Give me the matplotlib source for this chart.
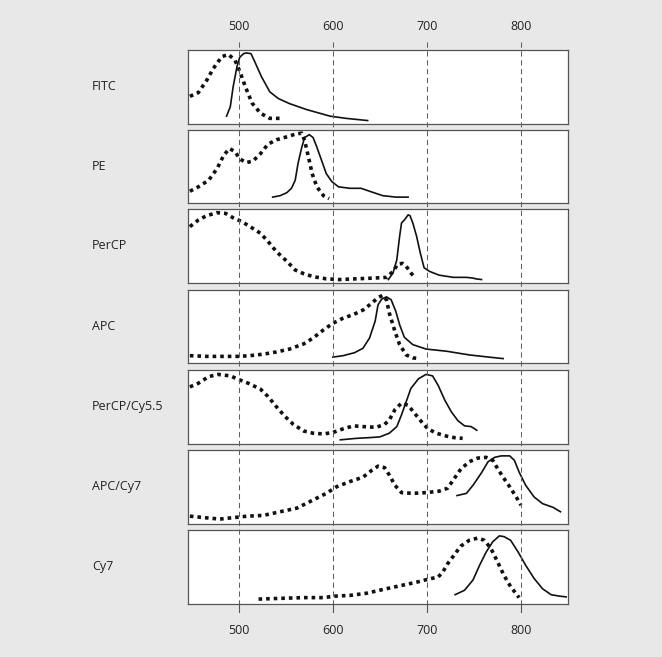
import matplotlib.pyplot as plt

plt.rcParams['font.family'] = ['Open Sans', 'DejaVu Sans']

# wavelength ticks
ticks = [500, 600, 700, 800]
x_min, x_max = 446, 850

names = ["FITC", "PE", "PerCP", "APC", "PerCP/Cy5.5", "APC/Cy7", "Cy7"]

# excitation (dotted) and emission (solid), y as fraction of panel height
fitc_ex_nm = [448, 457, 466, 473, 482, 489, 496, 501, 507, 514, 523, 533, 544]
fitc_ex = [0.37, 0.42, 0.59, 0.75, 0.91, 0.94, 0.86, 0.71, 0.50, 0.28, 0.14, 0.07, 0.07]
fitc_em_nm = [487, 491, 494, 498, 501, 505, 508, 513, 517, 524, 533, 542, 554, 572, 597, 614, 637]
fitc_em = [0.10, 0.23, 0.50, 0.77, 0.90, 0.95, 0.96, 0.95, 0.84, 0.64, 0.43, 0.34, 0.27, 0.19, 0.10, 0.07, 0.04]

pe_ex_nm = [448, 457, 468, 477, 484, 490, 496, 501, 508, 515, 523, 531, 540, 551, 561,
            567, 570, 574, 578, 583, 590, 596]
pe_ex = [0.16, 0.22, 0.31, 0.47, 0.65, 0.74, 0.70, 0.60, 0.55, 0.57, 0.67, 0.80, 0.86, 0.90, 0.94,
         0.95, 0.85, 0.63, 0.40, 0.22, 0.10, 0.06]
pe_em_nm = [536, 544, 551, 556, 560, 563, 567, 570, 575, 579, 583, 588, 593, 599, 606,
            618, 630, 639, 653, 667, 680]
pe_em = [0.08, 0.10, 0.14, 0.20, 0.31, 0.54, 0.76, 0.89, 0.93, 0.89, 0.76, 0.58, 0.40, 0.29, 0.22,
         0.20, 0.20, 0.16, 0.10, 0.08, 0.08]

percp_ex_nm = [448, 457, 466, 477, 486, 494, 503, 512, 523, 531, 540, 551, 560, 569, 579,
               593, 607, 625, 643, 657, 664, 669, 674, 678, 683, 687]
percp_ex = [0.76, 0.85, 0.91, 0.95, 0.94, 0.88, 0.83, 0.76, 0.67, 0.56, 0.42, 0.29, 0.17, 0.12, 0.08,
            0.05, 0.04, 0.05, 0.06, 0.07, 0.15, 0.25, 0.26, 0.22, 0.13, 0.07]
percp_em_nm = [659, 664, 668, 671, 673, 676, 680, 682, 685, 689, 693, 697, 703, 713, 728,
               742, 749, 752, 758]
percp_em = [0.04, 0.13, 0.31, 0.63, 0.81, 0.85, 0.92, 0.91, 0.81, 0.63, 0.40, 0.20, 0.15, 0.10, 0.07,
            0.07, 0.06, 0.05, 0.04]

apc_ex_nm = [448, 466, 484, 500, 512, 526, 540, 554, 569, 579, 590, 600, 611, 622, 632,
             641, 648, 653, 657, 660, 666, 671, 678, 685, 692]
apc_ex = [0.10, 0.09, 0.09, 0.09, 0.10, 0.12, 0.15, 0.19, 0.26, 0.34, 0.45, 0.54, 0.61, 0.66, 0.72,
          0.81, 0.89, 0.92, 0.86, 0.68, 0.43, 0.25, 0.11, 0.07, 0.06]
apc_em_nm = [600, 611, 623, 632, 639, 645, 648, 652, 657, 662, 667, 671, 676, 685, 699,
             721, 745, 766, 781]
apc_em = [0.08, 0.10, 0.14, 0.20, 0.34, 0.57, 0.79, 0.87, 0.90, 0.86, 0.70, 0.52, 0.35, 0.25, 0.19,
          0.16, 0.11, 0.08, 0.06]

cy55_ex_nm = [448, 457, 468, 478, 491, 500, 510, 523, 531, 540, 549, 558, 569, 579, 590, 600,
              611, 622, 632, 646, 655, 660, 666, 673, 680, 687, 694, 701, 710, 721, 729, 738]
cy55_ex = [0.77, 0.82, 0.91, 0.94, 0.92, 0.87, 0.82, 0.74, 0.64, 0.50, 0.37, 0.26, 0.17, 0.14, 0.13, 0.15,
           0.20, 0.24, 0.23, 0.22, 0.26, 0.32, 0.46, 0.55, 0.52, 0.41, 0.30, 0.20, 0.14, 0.10, 0.08, 0.07]
cy55_em_nm = [608, 625, 639, 650, 660, 668, 673, 678, 683, 691, 699, 706, 712, 719, 726,
              733, 740, 747, 753]
cy55_em = [0.05, 0.07, 0.08, 0.09, 0.14, 0.23, 0.39, 0.57, 0.75, 0.88, 0.94, 0.92, 0.79, 0.59, 0.43,
           0.31, 0.24, 0.23, 0.18]

apccy7_ex_nm = [448, 463, 480, 494, 509, 526, 544, 562, 579, 593, 604, 618, 632, 641, 648, 655, 660,
                666, 673, 685, 699, 713, 722, 729, 736, 745, 754, 763, 770, 775, 781, 788, 795, 800]
apccy7_ex = [0.10, 0.08, 0.06, 0.08, 0.10, 0.11, 0.16, 0.21, 0.32, 0.41, 0.50, 0.57, 0.63, 0.72, 0.78, 0.76, 0.66,
             0.52, 0.42, 0.41, 0.42, 0.44, 0.48, 0.61, 0.74, 0.84, 0.89, 0.90, 0.86, 0.75, 0.63, 0.50, 0.36, 0.25]
apccy7_em_nm = [732, 742, 749, 758, 765, 772, 779, 788, 793, 798, 805, 814, 823, 834, 842]
apccy7_em = [0.38, 0.41, 0.52, 0.69, 0.84, 0.90, 0.92, 0.92, 0.86, 0.70, 0.52, 0.36, 0.27, 0.22, 0.16]

cy7_ex_nm = [521, 544, 569, 590, 602, 618, 636, 653, 671, 689, 701, 712, 717, 722, 729,
             736, 745, 754, 761, 768, 775, 782, 789, 798]
cy7_ex = [0.06, 0.07, 0.08, 0.08, 0.10, 0.11, 0.14, 0.19, 0.24, 0.29, 0.33, 0.36, 0.43, 0.54, 0.66,
          0.78, 0.86, 0.89, 0.86, 0.75, 0.57, 0.38, 0.23, 0.08]
cy7_em_nm = [730, 740, 749, 756, 763, 770, 777, 782, 789, 797, 805, 814, 823, 832, 841, 848]
cy7_em = [0.12, 0.18, 0.32, 0.52, 0.70, 0.84, 0.92, 0.91, 0.86, 0.70, 0.52, 0.34, 0.20, 0.12, 0.10, 0.09]

excitation = [(fitc_ex_nm, fitc_ex), (pe_ex_nm, pe_ex), (percp_ex_nm, percp_ex), (apc_ex_nm, apc_ex),
              (cy55_ex_nm, cy55_ex), (apccy7_ex_nm, apccy7_ex), (cy7_ex_nm, cy7_ex)]
emission = [(fitc_em_nm, fitc_em), (pe_em_nm, pe_em), (percp_em_nm, percp_em), (apc_em_nm, apc_em),
            (cy55_em_nm, cy55_em), (apccy7_em_nm, apccy7_em), (cy7_em_nm, cy7_em)]

W, H = 662, 657
fig = plt.figure(figsize=(W / 100, H / 100), dpi=100)
fig.patch.set_facecolor('#e8e8e8')

left_px, right_px = 188, 568
panel_tops = [50, 129.5, 209, 289.5, 370, 450, 530]
panel_h = 73.5

def fx(px):
    return px / W

def fy(py):
    return 1 - py / H

for i, name in enumerate(names):
    top = panel_tops[i]
    ax = fig.add_axes([fx(left_px), fy(top + panel_h), fx(right_px - left_px), panel_h / H])
    ax.set_xlim(x_min, x_max)
    ax.set_ylim(0, 1)
    ax.set_xticks([])
    ax.set_yticks([])
    for s in ax.spines.values():
        s.set_color('#555555')
        s.set_linewidth(0.9)
    ex_x, ex_y = excitation[i]
    em_x, em_y = emission[i]
    ax.plot(ex_x, ex_y, color='#111111', lw=2.6, linestyle=(0, (1, 1.1)),
            dash_capstyle='butt', zorder=3)
    ax.plot(em_x, em_y, color='#111111', lw=1.2, zorder=4)
    fig.text(fx(92), fy(top + panel_h / 2), name, ha='left', va='center', fontsize=9, color='#222222')

# overlay with the dashed guide lines and tick labels
y_top, y_bot = 42, 613
ov = fig.add_axes([fx(left_px), fy(y_bot), fx(right_px - left_px), (y_bot - y_top) / H], zorder=10)
ov.set_xlim(x_min, x_max)
ov.set_ylim(y_bot, y_top)
ov.patch.set_alpha(0)
ov.axis('off')
for t in ticks:
    ov.plot([t, t], [y_top, 603], color='#606060', lw=0.75, linestyle=(0, (5, 3.5)))
    ov.plot([t, t], [603, y_bot], color='#555555', lw=0.8)
    ov.text(t, 26, str(t), ha='center', va='center', fontsize=9, color='#222222', clip_on=False)
    ov.text(t, 631, str(t), ha='center', va='center', fontsize=9, color='#222222', clip_on=False)

fig.savefig('out.png', dpi=100, facecolor=fig.get_facecolor())
